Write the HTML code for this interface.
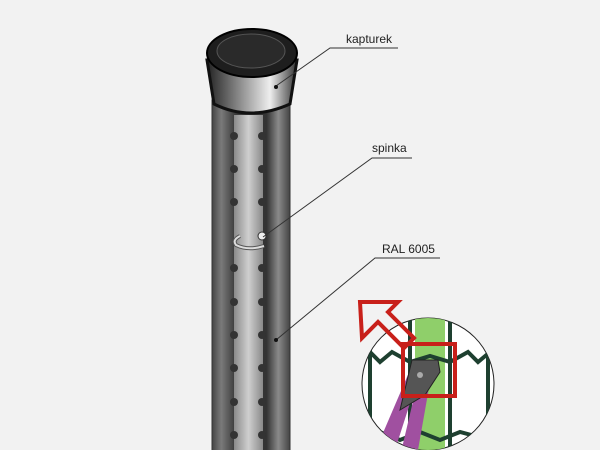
<!DOCTYPE html>
<html><head><style>
html,body{margin:0;padding:0;background:#f2f2f2;width:600px;height:450px;overflow:hidden}
</style></head><body>
<svg width="600" height="450" viewBox="0 0 600 450" xmlns="http://www.w3.org/2000/svg" font-family="Liberation Sans, sans-serif">
<defs>
<linearGradient id="post" x1="0" x2="1">
<stop offset="0" stop-color="#444"/><stop offset="0.12" stop-color="#7a7a7a"/><stop offset="0.3" stop-color="#3a3a3a"/><stop offset="0.7" stop-color="#333"/><stop offset="0.85" stop-color="#8a8a8a"/><stop offset="1" stop-color="#444"/>
</linearGradient>
<linearGradient id="strip" x1="0" x2="1">
<stop offset="0" stop-color="#8a8a8a"/><stop offset="0.5" stop-color="#cfcfcf"/><stop offset="1" stop-color="#8a8a8a"/>
</linearGradient>
<linearGradient id="cap" x1="0" x2="1">
<stop offset="0" stop-color="#222"/><stop offset="0.35" stop-color="#888"/><stop offset="0.7" stop-color="#eee"/><stop offset="1" stop-color="#333"/>
</linearGradient>
<clipPath id="cc"><circle cx="428" cy="384" r="66"/></clipPath>
</defs>
<rect x="212" y="100" width="78" height="360" fill="url(#post)" stroke="#333" stroke-width="1"/>
<rect x="234" y="115" width="29" height="340" fill="url(#strip)"/>
<g fill="#333">
<circle cx="234" cy="136" r="4"/><circle cx="262" cy="136" r="4"/>
<circle cx="234" cy="169" r="4"/><circle cx="262" cy="169" r="4"/>
<circle cx="234" cy="202" r="4"/><circle cx="262" cy="202" r="4"/>
<circle cx="234" cy="268" r="4"/><circle cx="262" cy="268" r="4"/>
<circle cx="234" cy="302" r="4"/><circle cx="262" cy="302" r="4"/>
<circle cx="234" cy="335" r="4"/><circle cx="262" cy="335" r="4"/>
<circle cx="234" cy="368" r="4"/><circle cx="262" cy="368" r="4"/>
<circle cx="234" cy="402" r="4"/><circle cx="262" cy="402" r="4"/>
<circle cx="234" cy="435" r="4"/><circle cx="262" cy="435" r="4"/>
</g>
<path d="M240 236 q-8 4 -4 9 q12 6 28 1" fill="none" stroke="#555" stroke-width="4"/>
<path d="M240 236 q-8 4 -4 9 q12 6 28 1" fill="none" stroke="#ddd" stroke-width="2"/>
<circle cx="262" cy="236" r="4" fill="#eee" stroke="#333"/>
<path d="M207 60 L214 104 Q250 122 290 104 L297 60 Z" fill="url(#cap)" stroke="#111" stroke-width="3"/>
<ellipse cx="252" cy="53" rx="45" ry="24" fill="#1e1e1e" stroke="#000" stroke-width="2"/>
<ellipse cx="251" cy="51" rx="34" ry="17" fill="#2a2a2a" stroke="#555" stroke-width="1"/>
<g font-size="12" fill="#222">
<text x="346" y="43">kapturek</text>
<text x="372" y="152">spinka</text>
<text x="382" y="253">RAL 6005</text>
</g>
<g stroke="#333" stroke-width="1" fill="none">
<polyline points="398,48 330,48 276,86"/>
<polyline points="412,158 372,158 263,237"/>
<polyline points="440,258 375,258 276,340"/>
</g>
<circle cx="276" cy="87" r="2" fill="#111"/><circle cx="276" cy="340" r="2" fill="#111"/>
<circle cx="428" cy="384" r="66" fill="#fff" stroke="#222" stroke-width="1"/>
<g clip-path="url(#cc)">
<rect x="415" y="310" width="30" height="150" fill="#8fcf6a"/>
<g stroke="#1e4030" stroke-width="4" fill="none">
<line x1="410" y1="310" x2="410" y2="460"/><line x1="450" y1="310" x2="450" y2="460"/>
<line x1="370" y1="350" x2="370" y2="420"/><line x1="488" y1="350" x2="488" y2="420"/>
<path d="M362 358 L370 352 L380 362 L392 352 L410 362 L430 356 L450 362 L468 352 L478 362 L490 352"/>
<path d="M362 440 L380 432 L400 440 L420 432 L440 440 L460 432 L490 440"/>
</g>
<path d="M380 440 L410 370 L420 372 L395 450 Z" fill="#a050a0"/>
<path d="M402 448 L418 380 L430 382 L418 450 Z" fill="#a050a0"/>
<path d="M400 410 L412 360 L438 360 L440 372 L425 395 Z" fill="#555" stroke="#222"/>
<circle cx="420" cy="375" r="3" fill="#aaa"/>
</g>
<rect x="403" y="344" width="52" height="52" fill="none" stroke="#c8201a" stroke-width="4"/>
<path d="M360 302 L398 302 L388 312 L414 338 L404 348 L378 322 L362 338 Z" fill="none" stroke="#c8201a" stroke-width="4" stroke-linejoin="miter"/>
</svg>
</body></html>
